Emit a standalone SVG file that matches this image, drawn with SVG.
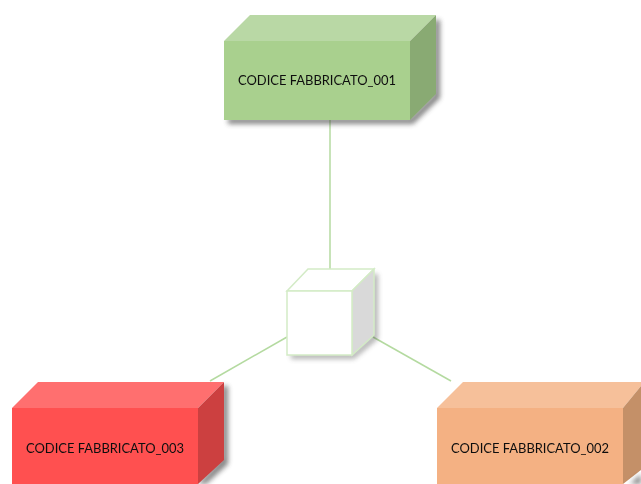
<svg xmlns="http://www.w3.org/2000/svg" width="641" height="484" viewBox="0 0 641 484">
<style>
.lbl{font-family:Lato,"Liberation Sans",Arial,sans-serif;font-size:12.5px;fill:#111;filter:url(#soft)}
.conn{stroke:#b4daa0;stroke-width:1.5;fill:none}
.shadow{fill:#444;opacity:.65;filter:url(#blur)}
.cube{stroke:#d3ebc6;stroke-width:1.5}
</style>
<defs>
<filter id="blur" x="-20%" y="-20%" width="140%" height="140%"><feGaussianBlur stdDeviation="2.5"/></filter>
<filter id="soft" x="-5%" y="-20%" width="110%" height="140%"><feGaussianBlur stdDeviation="0.35"/></filter>
</defs>
<rect width="641" height="484" fill="#fff"/>
<g id="connectors">
<line class="conn" x1="330" y1="120" x2="330" y2="270"/>
<line class="conn" x1="287" y1="337" x2="210" y2="381"/>
<line class="conn" x1="373" y1="337" x2="451" y2="381"/>
</g>
<g id="node-001">
<path class="shadow" d="M228 124H413L440 98L440 20L434 20V94L410 118H228Z"/>
<polygon points="224,41 250,15 436,15 410,41" fill="#b9d8a5"/>
<polygon points="410,41 436,15 436,94 410,120" fill="#89aa73"/>
<rect x="224" y="41" width="186" height="79" fill="#a9d08e"/>
<text class="lbl" x="238" y="84.5" textLength="158" lengthAdjust="spacingAndGlyphs">CODICE FABBRICATO_001</text>
</g>
<g id="node-center">
<path class="shadow" style="opacity:.4" d="M291 359H354L378 339V274L372 274V335L352 353H291Z"/>
<polygon class="cube" points="287,291 308,269 374,269 352,291" fill="#fff"/>
<polygon class="cube" points="352,291 374,269 374,335 352,355" fill="#d9d9d9"/>
<rect class="cube" x="287" y="291" width="65" height="64" fill="#fff"/>
</g>
<g id="node-003">
<path class="shadow" d="M228 386V464L206 484H198L222 458V386Z"/>
<polygon points="12,408 38,382 224,382 198,408" fill="#ff6f6f"/>
<polygon points="198,408 224,382 224,460 198,484" fill="#cc4040"/>
<rect x="12" y="408" width="186" height="76" fill="#ff5050"/>
<text class="lbl" x="26" y="452.5" textLength="158" lengthAdjust="spacingAndGlyphs">CODICE FABBRICATO_003</text>
</g>
<g id="node-002">
<polygon points="437,408 463,382 641,382 641,386 623,408" fill="#f6c09a"/>
<polygon points="623,408 641,386 641,470 623,484" fill="#c49068"/>
<path class="shadow" d="M630 484L641 474V484Z"/>
<rect x="437" y="408" width="186" height="76" fill="#f4b183"/>
<text class="lbl" x="451" y="452.5" textLength="158" lengthAdjust="spacingAndGlyphs">CODICE FABBRICATO_002</text>
</g>
</svg>
